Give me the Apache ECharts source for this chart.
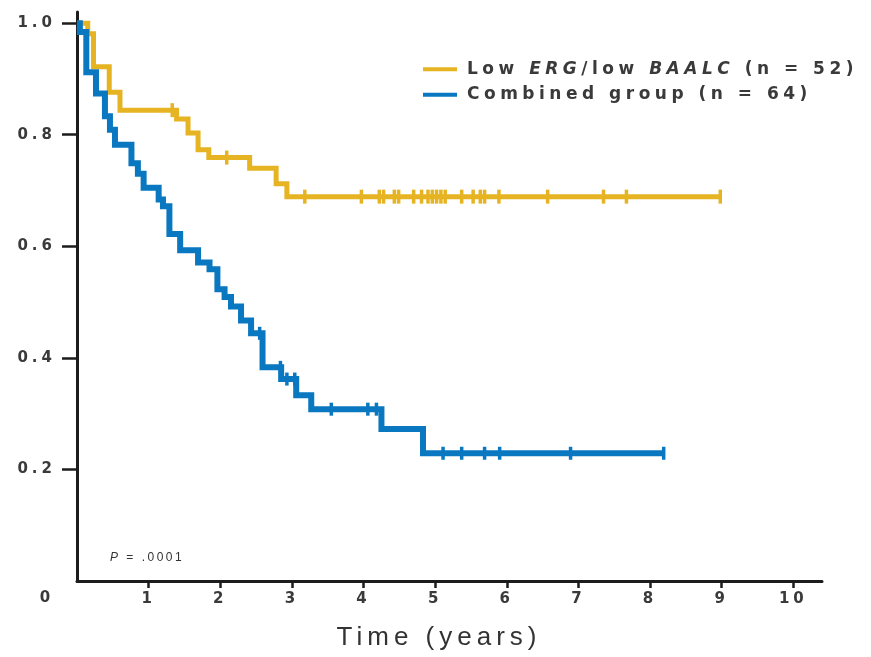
<!DOCTYPE html>
<html>
<head>
<meta charset="utf-8">
<script src="https://cdn.jsdelivr.net/npm/echarts@6/dist/echarts.min.js"></script>
<style>
html,body{margin:0;padding:0;background:#ffffff;}
#chart{width:871px;height:657px;}
</style>
</head>
<body>
<div id="chart"></div>
<script>
// ---------------- data ----------------
const yellowName = 'Low ERG/low BAALC (n = 52)';
const blueName = 'Combined group (n = 64)';

// Kaplan-Meier step points (time in years, survival after the step)
const yellowTimes = [0, 0.15, 0.23, 0.45, 0.60, 1.39, 1.55, 1.69, 1.84, 2.41, 2.78, 2.93, 8.98];
const yellowSurv  = [1, 0.981, 0.922, 0.876, 0.844, 0.828, 0.803, 0.773, 0.759, 0.740, 0.712, 0.689, 0.689];
const yellowCensor = [1.33, 2.09, 3.18, 3.97, 4.22, 4.28, 4.43, 4.49, 4.70, 4.81, 4.90, 4.96, 5.02, 5.08, 5.14,
                      5.37, 5.53, 5.63, 5.69, 5.89, 6.57, 7.35, 7.67, 8.98];

const blueTimes = [0, 0.04, 0.13, 0.265, 0.39, 0.46, 0.53, 0.76, 0.85, 0.93, 1.14, 1.20, 1.29, 1.44, 1.69, 1.85,
                   1.96, 2.06, 2.15, 2.29, 2.43, 2.59, 2.85, 3.06, 3.27, 4.25, 4.83, 8.19];
const blueSurv  = [1, 0.984, 0.912, 0.874, 0.833, 0.809, 0.782, 0.749, 0.730, 0.705, 0.684, 0.672, 0.622, 0.593, 0.571, 0.559,
                   0.523, 0.509, 0.492, 0.467, 0.444, 0.383, 0.362, 0.333, 0.308, 0.2725, 0.229, 0.229];
const blueCensor = [2.55, 2.84, 2.93, 3.04, 3.55, 4.06, 4.18, 5.11, 5.37, 5.69, 5.90, 6.89, 8.19];

const xTickValues = [1, 2, 3, 4, 5, 6, 7, 8, 9, 10];
const yTickValues = [0.2, 0.4, 0.6, 0.8, 1.0];
const originLabel = '0';
const xTitle = 'Time (years)';
const pLabel = '{i|P} = .0001';

// ---------------- text letter spacing (wide lettering of the original) ----------------
const SPACING = {12: 2.5, 15: 4, 17: 4.5, 26: 5};
(function () {
  const proto = CanvasRenderingContext2D.prototype;
  if (!('letterSpacing' in proto)) return;
  function apply(ctx) {
    const m = /(\d+(?:\.\d+)?)px/.exec(ctx.font || '');
    const s = m ? SPACING[+m[1]] : 0;
    ctx.letterSpacing = (s || 0) + 'px';
  }
  ['fillText', 'strokeText', 'measureText'].forEach(function (fn) {
    const orig = proto[fn];
    proto[fn] = function () { apply(this); return orig.apply(this, arguments); };
  });
})();

// ---------------- helpers ----------------
function stepValue(times, surv, t) {
  let s = surv[0];
  for (let i = 0; i < times.length; i++) { if (times[i] <= t) s = surv[i]; }
  return s;
}
function pairs(times, surv) { return times.map((t, i) => [t, surv[i]]); }
function censorPts(times, surv, cens) { return cens.map(t => [t, stepValue(times, surv, t)]); }

const YELLOW = '#E6B422';
const BLUE = '#0A78C0';
const AXIS = '#1c1c1c';
const FONT = 'Liberation Sans, Arial, Helvetica, sans-serif';
const WIDE = 'DejaVu Sans, Verdana, sans-serif';
const LABEL = '#3a3a3a';

const chart = echarts.init(document.getElementById('chart'), null, {renderer: 'canvas'});
chart.setOption({
  animation: false,
  backgroundColor: '#ffffff',
  grid: {left: 77, right: 49, top: 12, bottom: 76, containLabel: false, outerBoundsMode: 'none'},
  xAxis: {
    type: 'value', min: 0, max: 10.4, interval: 1,
    splitLine: {show: false},
    axisLine: {show: true, onZero: false, lineStyle: {color: AXIS, width: 3}},
    axisTick: {show: true, length: 7, customValues: xTickValues, lineStyle: {color: AXIS, width: 2.5}},
    axisLabel: {show: true, customValues: xTickValues, margin: 9, fontFamily: WIDE, fontSize: 15,
                fontWeight: 'bold', color: LABEL}
  },
  yAxis: {
    type: 'value', min: 0, max: 1.02, interval: 0.2,
    splitLine: {show: false},
    axisLine: {show: true, onZero: false, lineStyle: {color: AXIS, width: 3}},
    axisTick: {show: true, length: 15, customValues: yTickValues, lineStyle: {color: AXIS, width: 2.5}},
    axisLabel: {show: true, customValues: yTickValues, margin: 21, fontFamily: WIDE, fontSize: 15,
                fontWeight: 'bold', color: LABEL, formatter: v => v.toFixed(1)}
  },
  legend: {
    data: [yellowName, blueName],
    orient: 'vertical', left: 418, top: 53.5,
    itemWidth: 34, itemHeight: 4, itemGap: 4, icon: 'rect',
    formatter: function (name) {
      return name === yellowName ? 'Low {i|ERG}/low {i|BAALC} (n = 52)' : name;
    },
    textStyle: {
      fontFamily: WIDE, fontSize: 17, fontWeight: 'bold', color: LABEL, lineHeight: 17, padding: [0, 0, 0, 5],
      rich: {i: {fontFamily: WIDE, fontSize: 17, fontWeight: 'bold', fontStyle: 'italic', color: LABEL, lineHeight: 17}}
    }
  },
  graphic: [
    {type: 'text', x: 47, y: 598, silent: true,
     style: {text: originLabel, fontFamily: WIDE, fontSize: 15, fontWeight: 'bold', fill: LABEL,
             align: 'center', verticalAlign: 'middle'}},
    {type: 'text', x: 439, y: 638, silent: true,
     style: {text: xTitle, fontFamily: FONT, fontSize: 26, fill: '#333333', align: 'center', verticalAlign: 'middle'}},
    {type: 'text', x: 110, y: 558, silent: true,
     style: {text: pLabel, fontFamily: FONT, fontSize: 12, fill: '#333333', align: 'left', verticalAlign: 'middle',
             rich: {i: {fontFamily: FONT, fontSize: 12, fontStyle: 'italic', fill: '#333333'}}}}
  ],
  series: [
    {name: yellowName, type: 'line', step: 'end', color: YELLOW, showSymbol: false, symbol: 'none',
     data: pairs(yellowTimes, yellowSurv), z: 2,
     lineStyle: {color: YELLOW, width: 5, join: 'miter', cap: 'butt'}, itemStyle: {color: YELLOW}},
    {name: 'yellowCensor', type: 'scatter', symbol: 'rect', symbolSize: [3.5, 14], z: 3,
     data: censorPts(yellowTimes, yellowSurv, yellowCensor), itemStyle: {color: YELLOW, opacity: 1}},
    {name: blueName, type: 'line', step: 'end', color: BLUE, showSymbol: false, symbol: 'none',
     data: pairs(blueTimes, blueSurv), z: 4,
     lineStyle: {color: BLUE, width: 6, join: 'miter', cap: 'butt'}, itemStyle: {color: BLUE}},
    {name: 'blueCensor', type: 'scatter', symbol: 'rect', symbolSize: [3.5, 13], z: 5,
     data: censorPts(blueTimes, blueSurv, blueCensor), itemStyle: {color: BLUE, opacity: 1}}
  ]
});
</script>
</body>
</html>
